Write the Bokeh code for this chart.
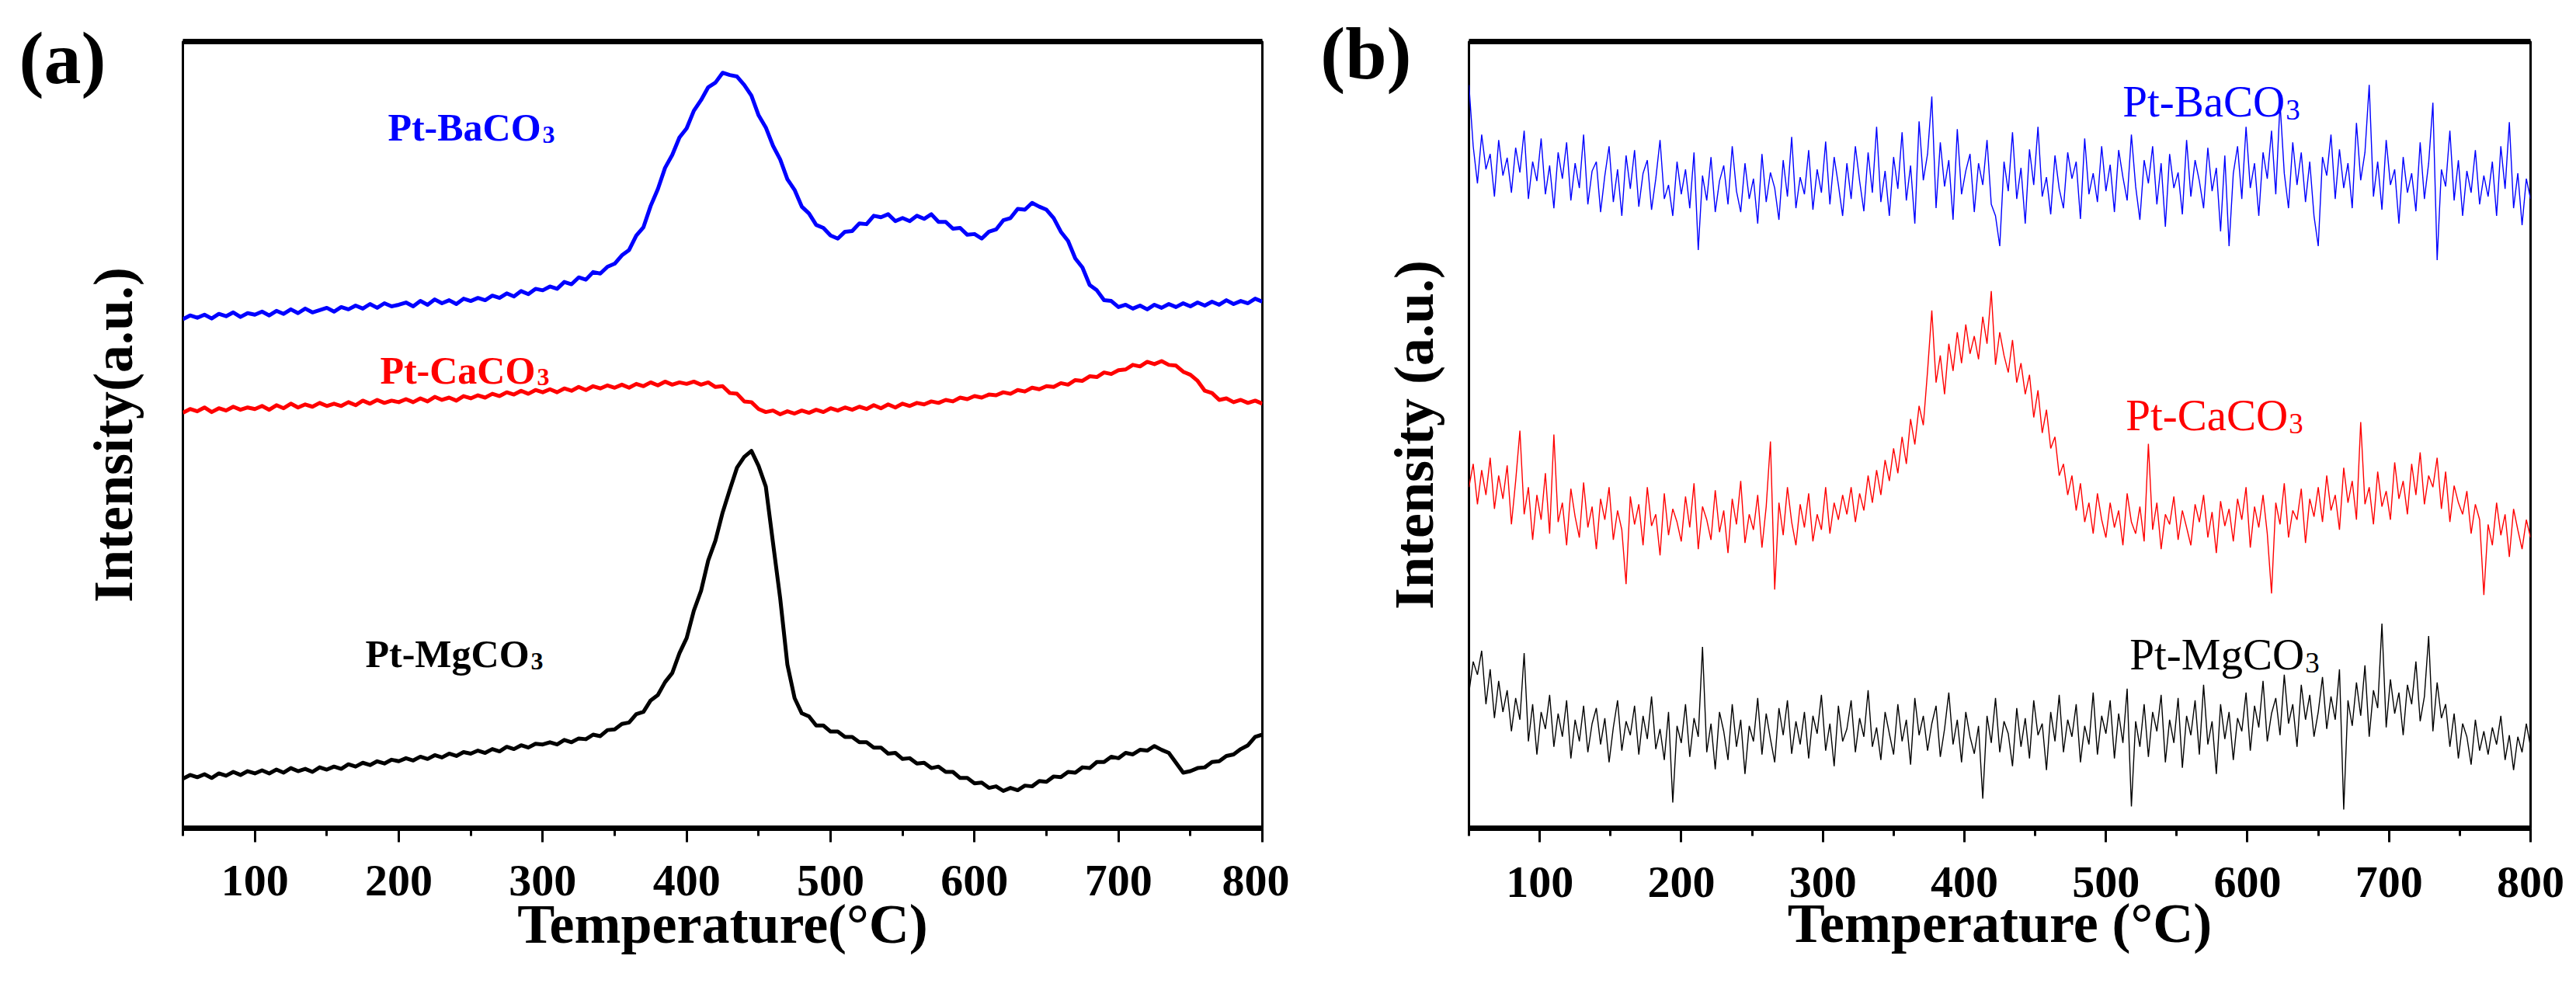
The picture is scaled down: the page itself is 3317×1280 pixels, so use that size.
from bokeh.plotting import figure
from bokeh.models import Range1d, FixedTicker, LinearAxis
from bokeh.layouts import row
from bokeh.embed import file_html
from bokeh.resources import INLINE
from bokeh.core.properties import value

# ---------------- data ----------------
# Panel (a): TPD profiles, temperature grid every 5 C, intensity in a.u.
temp_a = list(range(50, 801, 5))
ba_a = [669, 674, 671, 675, 670, 676, 673, 678, 672, 677, 675,
        679, 674, 680, 676, 682, 677, 683, 678, 681, 684,
        679, 685, 682, 687, 683, 689, 684, 690, 686, 688,
        691, 686, 693, 688, 695, 690, 694, 689, 696, 693,
        697, 694, 700, 697, 703, 699, 706, 702, 709, 707,
        712, 709, 718, 715, 724, 721, 731, 729, 738, 742,
        753, 760, 779, 790, 818, 840, 868, 885, 908, 920,
        943, 957, 974, 980, 993, 990, 988, 977, 963, 937,
        921, 897, 879, 853, 839, 817, 808, 793, 789, 779,
        775, 784, 785, 795, 794, 805, 803, 807, 798, 802,
        798, 805, 801, 807, 797, 797, 788, 789, 780, 781,
        775, 784, 787, 799, 802, 814, 813, 822, 817, 813,
        802, 784, 772, 749, 737, 714, 707, 694, 693, 685,
        688, 683, 687, 682, 688, 684, 689, 685, 690, 686,
        691, 687, 692, 688, 694, 689, 693, 690, 696, 692]
ca_a = [546, 551, 548, 553, 547, 552, 549, 554, 550, 553, 551,
        555, 550, 556, 552, 558, 553, 557, 554, 559, 555,
        558, 555, 560, 556, 562, 558, 563, 559, 562, 560,
        564, 560, 565, 561, 567, 563, 566, 562, 568, 565,
        569, 566, 571, 568, 573, 570, 575, 571, 576, 573,
        577, 573, 578, 575, 580, 576, 581, 578, 582, 579,
        583, 579, 584, 581, 586, 582, 587, 583, 586, 584,
        587, 583, 586, 580, 581, 572, 571, 561, 560, 551,
        547, 549, 544, 548, 545, 549, 546, 550, 547, 552,
        549, 553, 550, 554, 551, 556, 552, 557, 553, 558,
        555, 559, 557, 561, 559, 563, 561, 566, 564, 568,
        566, 570, 569, 573, 571, 576, 574, 579, 577, 581,
        580, 585, 583, 589, 588, 594, 593, 599, 597, 602,
        603, 609, 607, 613, 610, 614, 609, 608, 600, 596,
        588, 575, 572, 563, 565, 560, 563, 559, 562, 558]
mg_a = [65, 70, 67, 71, 66, 72, 69, 74, 70, 75, 72,
        76, 72, 77, 73, 79, 75, 78, 74, 80, 77,
        81, 78, 84, 81, 86, 83, 88, 85, 90, 88,
        92, 89, 94, 91, 96, 93, 98, 95, 100, 98,
        102, 99, 104, 101, 107, 104, 109, 106, 111, 110,
        113, 110, 116, 113, 118, 117, 123, 121, 129, 130,
        137, 139, 150, 153, 168, 175, 192, 204, 230, 250,
        286, 312, 352, 378, 415, 445, 474, 488, 496, 476,
        449, 375, 302, 215, 171, 151, 147, 135, 135, 127,
        127, 120, 120, 113, 113, 106, 106, 98, 99, 91,
        92, 85, 86, 79, 81, 74, 74, 66, 66, 59,
        60, 53, 55, 49, 53, 50, 56, 55, 62, 61,
        68, 67, 74, 73, 80, 79, 87, 87, 94, 92,
        99, 97, 103, 102, 108, 103, 99, 86, 73, 75,
        79, 80, 87, 88, 95, 97, 104, 109, 120, 123]

# Panel (b): temperature grid every 3 C
temp_b = list(range(50, 801, 3))
ba_b = [959, 880, 832, 895, 850, 870, 815, 888, 842, 865,
        820, 878, 846, 900, 812, 860, 835, 890, 818, 855,
        800, 872, 838, 885, 810, 858, 826, 895, 805, 848,
        860, 795, 842, 880, 808, 850, 790, 868, 825, 875,
        802, 845, 862, 798, 838, 888, 812, 830, 790, 860,
        818, 850, 800, 872, 746, 842, 810, 866, 795, 835,
        855, 805, 880, 822, 795, 858, 812, 838, 780, 870,
        808, 846, 826, 785, 862, 815, 892, 800, 840, 818,
        875, 798, 850, 820, 886, 805, 866, 830, 790, 858,
        812, 880, 835, 796, 872, 820, 905, 808, 848, 790,
        866, 825, 898, 810, 855, 780, 912, 836, 870, 944,
        800, 885, 828, 862, 785, 902, 818, 848, 870, 795,
        858, 830, 888, 805, 790, 751, 860, 822, 898, 812,
        852, 780, 876, 830, 905, 815, 840, 792, 868, 825,
        800, 872, 838, 860, 786, 890, 818, 845, 808, 880,
        822, 856, 795, 875, 840, 810, 895, 828, 785, 862,
        832, 880, 805, 858, 776, 870, 826, 846, 792, 888,
        815, 862, 835, 800, 878, 822, 852, 770, 868, 751,
        845, 880, 812, 905, 826, 858, 790, 872, 838, 900,
        818, 936, 845, 800, 885, 830, 872, 808, 860, 790,
        751, 866, 842, 895, 812, 876, 826, 858, 800, 910,
        836, 872, 959, 815, 860, 798, 888, 830, 850, 780,
        866, 820, 845, 796, 885, 812, 858, 936, 733, 850,
        828, 900, 810, 862, 790, 848, 820, 875, 805, 842,
        815, 860, 790, 880, 825, 911, 800, 845, 778, 838,
        812]
ca_b = [440, 470, 418, 462, 430, 478, 412, 455, 425, 468,
        392, 448, 513, 405, 440, 372, 430, 398, 458, 380,
        508, 395, 420, 365, 438, 402, 375, 446, 388, 415,
        360, 425, 398, 440, 372, 410, 385, 315, 428, 392,
        418, 365, 440, 390, 405, 352, 432, 378, 412, 395,
        370, 428, 388, 445, 360, 415, 398, 372, 436, 382,
        410, 355, 425, 392, 448, 368, 405, 385, 430, 362,
        415, 499, 308, 420, 378, 440, 395, 365, 418, 388,
        432, 370, 405, 385, 440, 380, 420, 398, 430, 405,
        440, 395, 432, 410, 455, 420, 462, 430, 475, 448,
        490, 458, 505, 470, 528, 495, 545, 520, 590, 668,
        575, 610, 560, 625, 590, 640, 600, 650, 612, 635,
        605, 660, 625, 693, 598, 640, 610, 588, 630, 575,
        600, 560, 585, 530, 565, 510, 540, 490, 505, 455,
        470, 430, 455, 410, 445, 395, 420, 380, 432, 398,
        375, 420, 388, 410, 365, 432, 395, 380, 415, 370,
        496, 385, 420, 360, 405, 392, 428, 372, 410, 388,
        365, 418, 395, 430, 375, 408, 355, 422, 390, 412,
        370, 425, 398, 440, 362, 415, 388, 430, 380, 303,
        420, 392, 445, 375, 410, 398, 438, 368, 425, 402,
        440, 395, 455, 410, 430, 385, 465, 420, 448, 398,
        524, 418, 440, 392, 460, 415, 435, 398, 472, 425,
        448, 405, 470, 430, 485, 418, 455, 440, 478, 412,
        460, 395, 442, 420, 405, 435, 380, 418, 398, 301,
        392, 365, 420, 378, 405, 350, 412, 385, 360, 398,
        375]
mg_b = [175, 215, 198, 229, 160, 205, 142, 190, 150, 178,
        125, 168, 140, 226, 112, 160, 95, 150, 128, 172,
        105, 148, 118, 165, 90, 140, 112, 158, 98, 135,
        155, 108, 142, 85, 130, 165, 100, 138, 120, 158,
        95, 145, 115, 170, 102, 128, 88, 150, 33, 132,
        110, 160, 92, 142, 118, 234, 98, 135, 76, 150,
        125, 88, 160, 105, 140, 70, 132, 112, 168, 95,
        148, 115, 85, 155, 120, 165, 96, 138, 108, 150,
        90, 145, 122, 172, 100, 135, 80, 158, 112, 128,
        165, 98, 142, 118, 178, 105, 130, 88, 150, 122,
        95, 160, 112, 140, 82, 168, 120, 145, 100, 135,
        158, 92, 128, 175, 108, 140, 85, 150, 118, 96,
        132, 38, 145, 110, 168, 98, 138, 122, 80, 155,
        105, 142, 90, 165, 120, 135, 75, 150, 112, 172,
        98, 140, 118, 160, 85, 132, 108, 175, 95, 145,
        122, 165, 90, 148, 110, 180, 28, 138, 105, 160,
        92, 150, 125, 172, 85, 140, 110, 168, 78, 145,
        120, 165, 95, 185, 108, 138, 70, 160, 115, 150,
        88, 142, 125, 175, 100, 158, 130, 190, 112, 148,
        168, 120, 198, 135, 160, 105, 185, 140, 172, 118,
        150, 195, 128, 170, 140, 205, 24, 165, 132, 188,
        145, 210, 118, 178, 155, 264, 130, 192, 148, 175,
        120, 185, 160, 215, 138, 170, 248, 125, 188, 142,
        160, 105, 148, 90, 135, 118, 82, 140, 100, 125,
        95, 130, 108, 145, 88, 120, 75, 118, 98, 135,
        105]

series_names = ["Pt-BaCO", "Pt-CaCO", "Pt-MgCO"]
series_sub = "3"
series_colors = ["#0000ff", "#ff0000", "#000000"]
x_major = [100, 200, 300, 400, 500, 600, 700, 800]
x_minor = [50, 150, 250, 350, 450, 550, 650, 750]

FONT = "Liberation Serif"


def style_axes(p, xlabel, ylabel, panel_tag, tag_y, tag_stand,
               ylab_stand, lab_stand, xlab_stand):
    p.title.visible = False
    p.grid.visible = False
    p.outline_line_color = "black"
    p.outline_line_width = 3
    p.background_fill_color = "white"
    p.border_fill_color = "white"
    xa = p.xaxis[0]
    xa.ticker = FixedTicker(ticks=x_major, minor_ticks=x_minor)
    xa.axis_line_width = 7
    xa.major_tick_line_width = 3
    xa.minor_tick_line_width = 3
    xa.major_tick_out = 18
    xa.major_tick_in = 0
    xa.minor_tick_out = 10
    xa.minor_tick_in = 0
    xa.major_label_text_font = FONT
    xa.major_label_text_font_style = "bold"
    xa.major_label_text_font_size = "58px"
    xa.major_label_text_color = "black"
    xa.major_label_standoff = lab_stand
    xa.axis_label = xlabel
    xa.axis_label_text_font = FONT
    xa.axis_label_text_font_style = "bold"
    xa.axis_label_text_font_size = "72px"
    xa.axis_label_text_color = "black"
    xa.axis_label_standoff = xlab_stand
    # left axis: no tick marks; the panel tag sits beside the frame top
    ya = p.yaxis[0]
    ya.ticker = FixedTicker(ticks=[tag_y], minor_ticks=[])
    ya.major_label_overrides = {tag_y: panel_tag}
    ya.major_label_text_font = FONT
    ya.major_label_text_font_style = "bold"
    ya.major_label_text_font_size = "96px"
    ya.major_label_text_color = "black"
    ya.major_label_standoff = tag_stand
    ya.major_tick_line_color = None
    ya.minor_tick_line_color = None
    ya.major_tick_out = 0
    ya.major_tick_in = 0
    ya.minor_tick_out = 0
    ya.minor_tick_in = 0
    ya.axis_line_color = None
    ya.axis_label = ylabel
    ya.axis_label_text_font = FONT
    ya.axis_label_text_font_style = "bold"
    ya.axis_label_text_font_size = "72px"
    ya.axis_label_text_color = "black"
    ya.axis_label_standoff = ylab_stand
    # thick top frame line
    top = LinearAxis(ticker=FixedTicker(ticks=[], minor_ticks=[]),
                     major_tick_out=0, major_tick_in=0,
                     minor_tick_out=0, minor_tick_in=0,
                     axis_line_width=7, axis_line_color="black")
    p.add_layout(top, "above")


def add_labels(p, xs, ys, offs, size, sub_size, sub_dy, style):
    for name, color, x, y, off in zip(series_names, series_colors, xs, ys, offs):
        p.text(x=[x], y=[y], text=[name], text_color=color, text_font=value(FONT),
               text_font_style=style, text_font_size=size, text_align="left",
               text_baseline="alphabetic")
        p.text(x=[x], y=[y], text=[series_sub], text_color=color, text_font=value(FONT),
               text_font_style=style, text_font_size=sub_size, text_align="left",
               text_baseline="alphabetic", x_offset=off, y_offset=sub_dy)


# ---------------- panel (a) ----------------
pa = figure(width=1660, height=1280, output_backend="svg", toolbar_location=None,
            x_range=Range1d(50, 800), y_range=Range1d(0, 1034),
            min_border_left=235, min_border_right=35, min_border_top=53,
            min_border_bottom=193)
style_axes(pa, "Temperature(\u00b0C)", "Intensity(a.u.)", "(a)", 1013, 99,
           -164, 30, -6)
for ys, c in zip([ba_a, ca_a, mg_a], series_colors):
    n = min(len(temp_a), len(ys))
    pa.line(temp_a[:n], ys[:n], line_color=c, line_width=5, line_join="round")
add_labels(pa, [192.4, 187.0, 176.8], [921, 602, 229], [199, 202, 213],
           "50px", "32px", 9, "bold")

# ---------------- panel (b) ----------------
pb = figure(width=1652, height=1280, output_backend="svg", toolbar_location=None,
            x_range=Range1d(50, 800), y_range=Range1d(0, 1015),
            min_border_left=231, min_border_right=54, min_border_top=51,
            min_border_bottom=214)
style_axes(pb, "Temperature (\u00b0C)", "Intensity (a.u.)", "(b)", 1000, 74,
           -164, 32, -9)
for ys, c in zip([ba_b, ca_b, mg_b], series_colors):
    n = min(len(temp_b), len(ys))
    pb.line(temp_b[:n], ys[:n], line_color=c, line_width=1.4)
add_labels(pb, [511.8, 514.0, 516.8], [938, 533, 224], [210, 210, 226],
           "57px", "37px", 11, "normal")

layout = row(pa, pb)
open("out.html", "w").write(file_html(layout, INLINE))
